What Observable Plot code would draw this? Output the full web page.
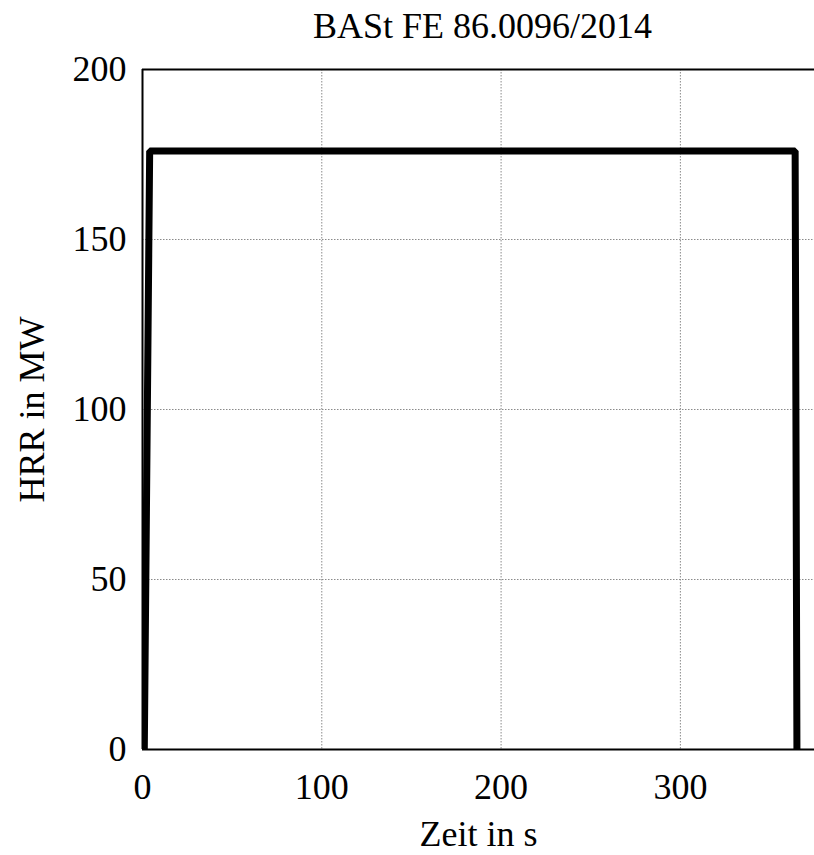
<!DOCTYPE html>
<html>
<head>
<meta charset="utf-8">
<script src="https://cdn.jsdelivr.net/npm/d3@7"></script>
<script src="https://cdn.jsdelivr.net/npm/@observablehq/plot@0.6"></script>
<style>
  html, body { margin: 0; padding: 0; background: #fff; overflow: hidden; }
</style>
</head>
<body>
<div id="chart"></div>
<script>
const title = "BASt FE 86.0096/2014";
const xLabel = "Zeit in s";
const yLabel = "HRR in MW";
const time = [1, 4, 364, 365];
const hrr = [0, 176, 176, 0];
const xTicks = [0, 100, 200, 300];
const yTicks = [0, 50, 100, 150, 200];
const xGrid = [100, 200, 300];
const yGrid = [50, 100, 150];
const xMax = 374.8;

const data = time.map((t, i) => ({t, v: hrr[i]}));

const chart = Plot.plot({
  width: 814,
  height: 855,
  marginLeft: 142,
  marginRight: 0,
  marginTop: 69,
  marginBottom: 106,
  style: {fontFamily: "'Liberation Serif', serif", fontSize: "36px", color: "#000", background: "#fff"},
  x: {domain: [0, xMax]},
  y: {domain: [0, 200]},
  marks: [
    Plot.gridX(xGrid, {stroke: "#8a8a8a", strokeOpacity: 1, strokeWidth: 1, strokeDasharray: "1.5,1.5"}),
    Plot.gridY(yGrid, {stroke: "#8a8a8a", strokeOpacity: 1, strokeWidth: 1, strokeDasharray: "1.5,1.5"}),
    Plot.axisX({ticks: xTicks, tickSize: 0, tickPadding: 24, fontSize: 36, label: xLabel, labelAnchor: "center", labelArrow: "none", labelOffset: 96}),
    Plot.axisY({ticks: yTicks, tickSize: 0, tickPadding: 16, fontSize: 36, label: yLabel, labelAnchor: "center", labelArrow: "none", labelOffset: 124}),
    Plot.ruleX([0], {stroke: "#000", strokeWidth: 2}),
    Plot.ruleY([0, 200], {x1: 0, x2: xMax + 2, stroke: "#000", strokeWidth: 2, strokeLinecap: "butt"}),
    Plot.line(data, {x: "t", y: "v", stroke: "#000", strokeWidth: 7, strokeLinejoin: "miter", clip: true}),
    Plot.text([title], {frameAnchor: "top", lineAnchor: "middle", dy: -43, dx: 4, fontSize: 36, fill: "#000"})
  ]
});
document.getElementById("chart").appendChild(chart);
</script>
</body>
</html>
